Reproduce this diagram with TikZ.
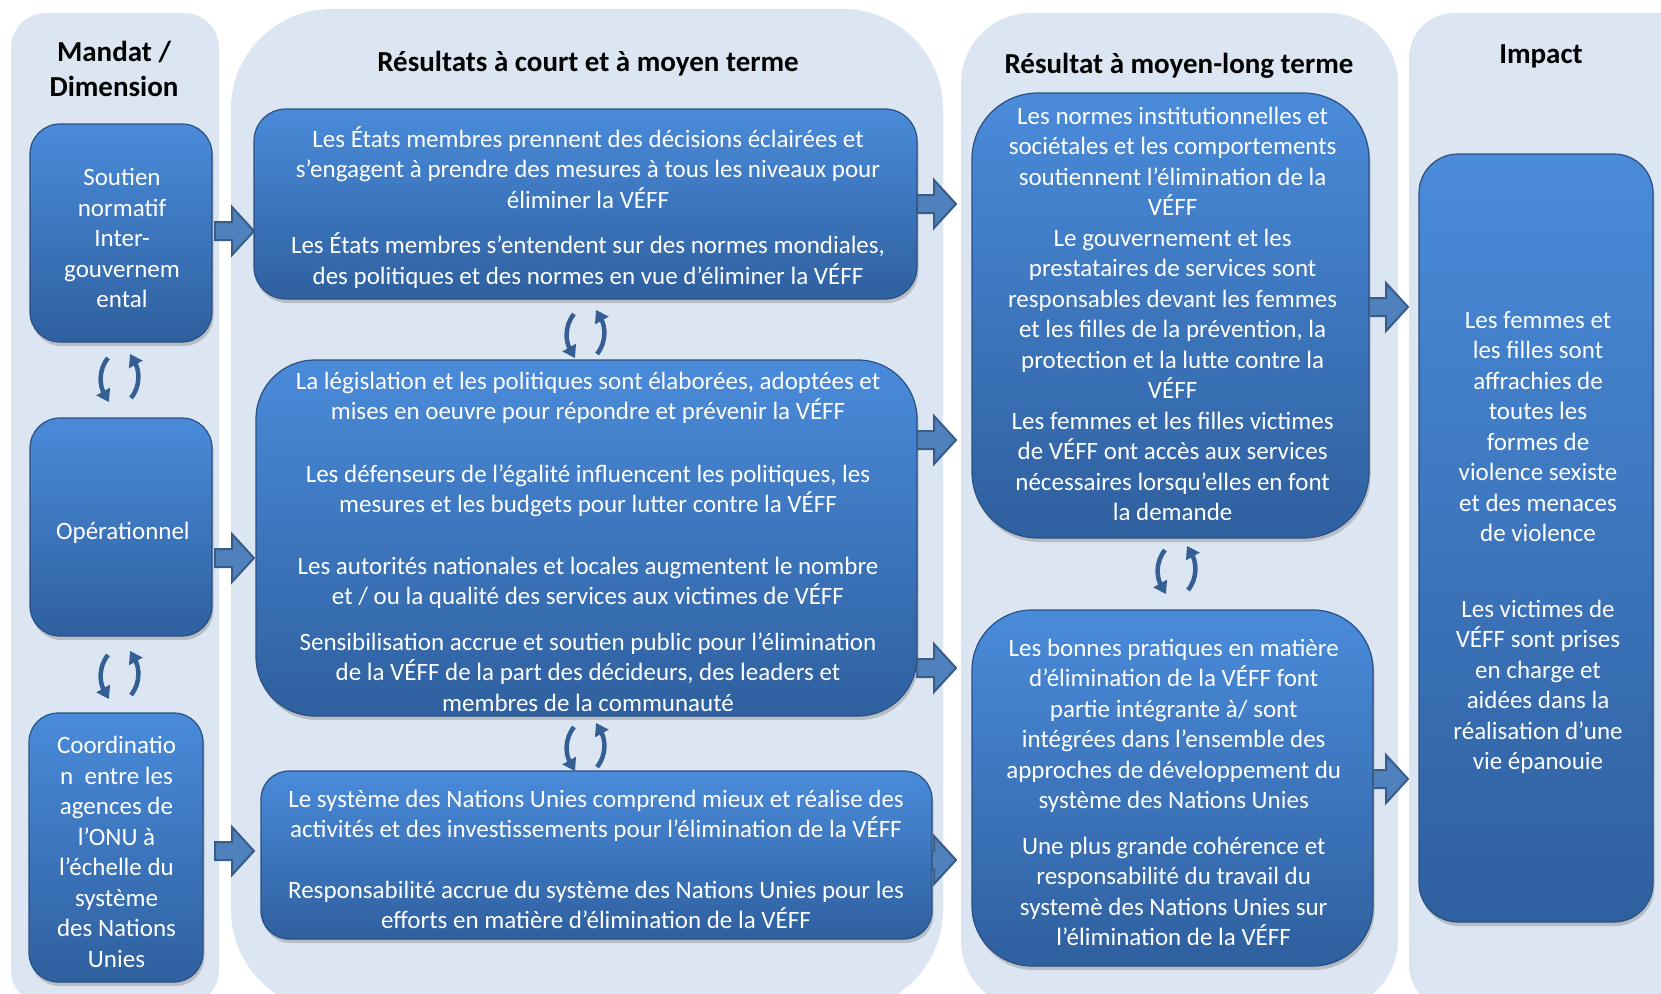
\documentclass[tikz,border=0pt]{standalone}
\usepackage{fontspec}
\setmainfont{Carlito}
\usetikzlibrary{shadows,arrows.meta,calc}
\definecolor{panelc}{HTML}{DCE6F2}
\definecolor{btop}{HTML}{4A8BDA}
\definecolor{bbot}{HTML}{2F609F}
\definecolor{bedge}{HTML}{2A5083}
\definecolor{afill}{HTML}{4F81BD}
\definecolor{aedge}{HTML}{385D8A}
\definecolor{carrow}{HTML}{345E94}
\newcommand{\blockarrow}[1]{\draw[barr] (#1) ++(0,-9) -- ++(17,0) -- ++(0,-15) -- ++(22,24) -- ++(-22,24) -- ++(0,-15) -- ++(-17,0) -- cycle;}
\newcommand{\cyclepair}[1]{%
  \draw[carr] ($(#1)+(-11,-20)$) .. controls ($(#1)+(-21,-8)$) and ($(#1)+(-19,8)$) .. ($(#1)+(-10,24)$);
  \draw[carr] ($(#1)+(12,20)$) .. controls ($(#1)+(22,8)$) and ($(#1)+(20,-8)$) .. ($(#1)+(11,-24)$);}
\begin{document}
\begin{tikzpicture}[x=1pt,y=-1pt,
  panel/.style={fill=panelc},
  box/.style={rectangle, top color=btop, bottom color=bbot, draw=bedge, line width=1.2pt,
     drop shadow={shadow xshift=1.5pt, shadow yshift=-4pt, opacity=0.4}},
  txt/.style={text=white, align=center, inner sep=0pt, font=\fontsize{25}{30.5}\selectfont},
  head/.style={text=black, align=center, inner sep=0pt, font=\fontsize{29}{35}\selectfont\bfseries},
  barr/.style={fill=afill, draw=aedge, line width=2pt, line join=miter},
  carr/.style={draw=carrow, line width=4.5pt, -{Triangle[width=15pt,length=12pt]}}
]
\useasboundingbox (0,0) rectangle (1661,993);
\clip (0,0) rectangle (1661,993);
\fill[white] (0,0) rectangle (1661,993);
% panels
\fill[panel, rounded corners=35pt] (11,13) rectangle (219,1005);
\fill[panel, rounded corners=100pt] (231,9) rectangle (943,1010);
\fill[panel, rounded corners=70pt] (961,13) rectangle (1398,1010);
\fill[panel, rounded corners=45pt] (1409,13) rectangle (1710,1010);
% headers
\node[head] (h1) at (114,68.5) {Mandat /\\Dimension};
\node[head] (h2) at (588,64) {Résultats à court et à moyen terme};
\node[head] (h3) at (1179,66) {Résultat à moyen-long terme};
\node[head] (h4) at (1541,56) {Impact};
% block arrows (drawn beneath boxes)
\coordinate (a1) at (215,231);
\coordinate (a2) at (215,558);
\coordinate (a3) at (215,851);
\coordinate (a4) at (917,204);
\coordinate (a5) at (917,440);
\coordinate (a6) at (917,668);
\coordinate (a7) at (917,860);
\coordinate (a8) at (1369,307);
\coordinate (a9) at (1369,779);
\foreach \a in {a1,a2,a3,a4,a5,a6,a7,a8,a9} {\blockarrow{\a}}
% boxes
\node[box, rounded corners=30pt, minimum width=182pt, minimum height=218pt] (A) at (121,233) {};
\node[box, rounded corners=30pt, minimum width=182pt, minimum height=218pt] (B) at (121,527) {};
\node[box, rounded corners=29pt, minimum width=174pt, minimum height=269pt] (C) at (116,847.5) {};
\node[box, rounded corners=32pt, minimum width=663pt, minimum height=190pt] (M1) at (585.5,204) {};
\node[box, rounded corners=59pt, minimum width=661pt, minimum height=356pt] (M2) at (586.5,538) {};
\node[box, rounded corners=28pt, minimum width=671pt, minimum height=168pt] (M3) at (596.5,855) {};
\node[box, rounded corners=66pt, minimum width=397pt, minimum height=445pt] (R1) at (1170.5,315.5) {};
\node[box, rounded corners=60pt, minimum width=401pt, minimum height=356pt] (R2) at (1172.5,788) {};
\node[box, rounded corners=39pt, minimum width=234pt, minimum height=768pt] (I) at (1536,538) {};
% texts
\node[txt] (tA) at (122,238) {Soutien\\normatif\\Inter-\\gouvernem\\ental};
\node[txt] (tB) at (122.9,533) {Opérationnel};
\node[txt] (tC) at (116.5,852) {Coordinatio\\n\ \ entre les\\agences de\\l’ONU à\\l’échelle du\\système\\des Nations\\Unies};
\node[txt] (tM1) at (588,207.5) {Les États membres prennent des décisions éclairées et\\s’engagent à prendre des mesures à tous les niveaux pour\\éliminer la VÉFF\\[15pt]Les États membres s’entendent sur des normes mondiales,\\des politiques et des normes en vue d’éliminer la VÉFF};
\node[txt] (tM2) at (588,541.5) {La législation et les politiques sont élaborées, adoptées et\\mises en oeuvre pour répondre et prévenir la VÉFF\\[32pt]Les défenseurs de l’égalité influencent les politiques, les\\mesures et les budgets pour lutter contre la VÉFF\\[31pt]Les autorités nationales et locales augmentent le nombre\\et / ou la qualité des services aux victimes de VÉFF\\[15pt]Sensibilisation accrue et soutien public pour l’élimination\\de la VÉFF de la part des décideurs, des leaders et\\membres de la communauté};
\node[txt] (tM3) at (596,859.5) {Le système des Nations Unies comprend mieux et réalise des\\activités et des investissements pour l’élimination de la VÉFF\\[30pt]Responsabilité accrue du système des Nations Unies pour les\\efforts en matière d’élimination de la VÉFF};
\node[txt] (tR1) at (1172.6,314) {Les normes institutionnelles et\\sociétales et les comportements\\soutiennent l’élimination de la\\VÉFF\\Le gouvernement et les\\prestataires de services sont\\responsables devant les femmes\\et les filles de la prévention, la\\protection et la lutte contre la\\VÉFF\\Les femmes et les filles victimes\\de VÉFF ont accès aux services\\nécessaires lorsqu’elles en font\\la demande};
\node[txt] (tR2) at (1173.7,792.5) {Les bonnes pratiques en matière\\d’élimination de la VÉFF font\\partie intégrante à/ sont\\intégrées dans l’ensemble des\\approches de développement du\\système des Nations Unies\\[15pt]Une plus grande cohérence et\\responsabilité du travail du\\systemè des Nations Unies sur\\l’élimination de la VÉFF};
\node[txt] (tI) at (1538,542.3) {Les femmes et\\les filles sont\\affrachies de\\toutes les\\formes de\\violence sexiste\\et des menaces\\de violence\\[45pt]Les victimes de\\VÉFF sont prises\\en charge et\\aidées dans la\\réalisation d’une\\vie épanouie};
% cycle arrows
\coordinate (c1) at (119,378);
\coordinate (c2) at (119,675);
\coordinate (c3) at (585,334);
\coordinate (c4) at (585,747);
\coordinate (c5) at (1176,570);
\foreach \c in {c1,c2,c3,c4,c5} {\cyclepair{\c}}
\end{tikzpicture}
\end{document}
